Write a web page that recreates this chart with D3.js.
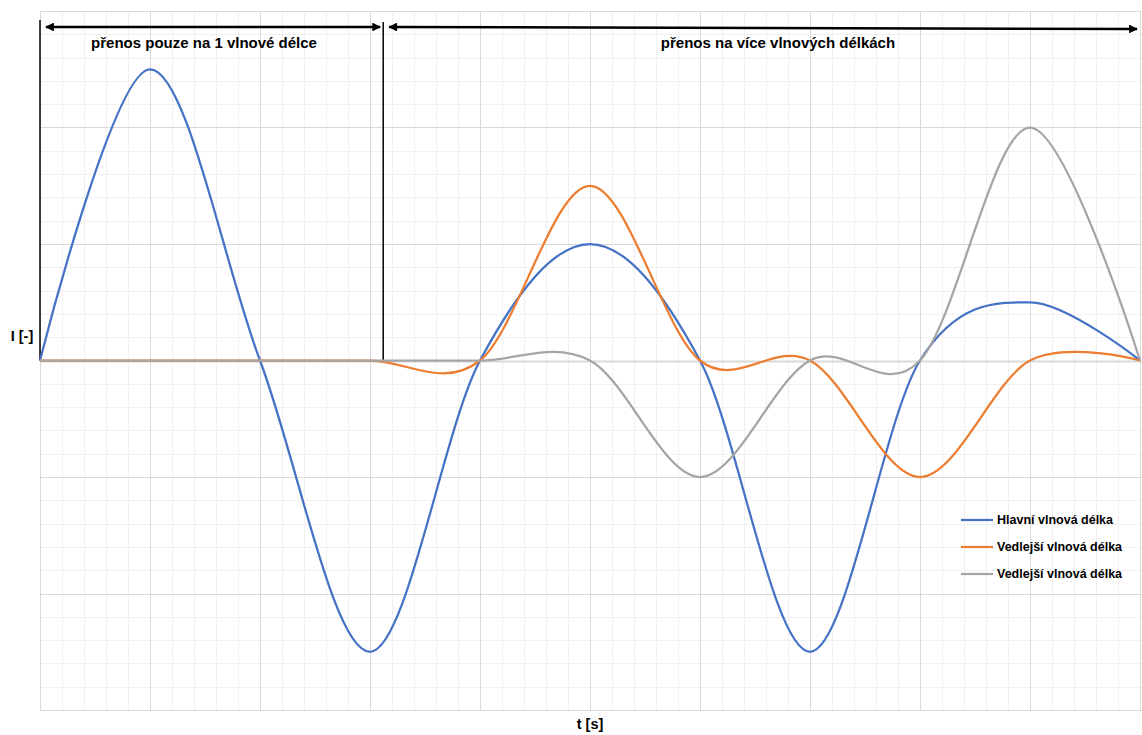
<!DOCTYPE html>
<html>
<head>
<meta charset="utf-8">
<script src="https://cdn.jsdelivr.net/npm/d3@7"></script>
<style>
  body { margin: 0; background: #fff; }
  text { font-family: "Liberation Sans", Arial, sans-serif; font-weight: bold; fill: #000; }
</style>
</head>
<body>
<div id="chart"></div>
<script>
// data (t in grid units, I in grid units)
var tValues = [0, 1, 2, 3, 4, 5, 6, 7, 8, 9, 10];
var hlavni = [0, 2.5, 0, -2.5, 0, 1, 0, -2.5, 0, 0.5, 0];
var vedlejsi1 = [0, 0, 0, 0, 0, 1.5, 0, 0, -1, 0, 0];
var vedlejsi2 = [0, 0, 0, 0, 0, 0, -1, 0, 0, 2, 0];
var seriesNames = ["Hlavní vlnová délka", "Vedlejší vlnová délka", "Vedlejší vlnová délka"];
var sections = [
  {from: 0, to: 3.12, label: "přenos pouze na 1 vlnové délce"},
  {from: 3.12, to: 10, label: "přenos na více vlnových délkách"}
];

var W = 1142, H = 735;

var x = d3.scaleLinear().domain([0, 10]).range([40, 1140]);
var y = d3.scaleLinear().domain([-3, 3]).range([710, 11]);

var svg = d3.select("#chart").append("svg").attr("width", W).attr("height", H);

// minor grid
var minorX = d3.range(0, 10.001, 0.2), minorY = d3.range(-3, 3.001, 0.2);
svg.append("g").selectAll("line").data(minorX).enter().append("line")
  .attr("x1", function(d) { return Math.round(x(d)) + 0.5; }).attr("x2", function(d) { return Math.round(x(d)) + 0.5; })
  .attr("y1", y(3)).attr("y2", y(-3)).attr("stroke", "#f0f0f0").attr("stroke-width", 1);
svg.append("g").selectAll("line").data(minorY).enter().append("line")
  .attr("y1", function(d) { return Math.round(y(d)) + 0.5; }).attr("y2", function(d) { return Math.round(y(d)) + 0.5; })
  .attr("x1", x(0)).attr("x2", W).attr("stroke", "#f0f0f0").attr("stroke-width", 1);

// major grid
svg.append("g").selectAll("line").data(d3.range(0, 11)).enter().append("line")
  .attr("x1", function(d) { return Math.round(x(d)) + 0.5; }).attr("x2", function(d) { return Math.round(x(d)) + 0.5; })
  .attr("y1", y(3)).attr("y2", y(-3)).attr("stroke", "#d9d9d9").attr("stroke-width", 1);
svg.append("g").selectAll("line").data(d3.range(-3, 4)).enter().append("line")
  .attr("y1", function(d) { return Math.round(y(d)) + 0.5; }).attr("y2", function(d) { return Math.round(y(d)) + 0.5; })
  .attr("x1", x(0)).attr("x2", W).attr("stroke", "#d9d9d9").attr("stroke-width", function(d) { return d === 0 ? 2 : 1; });

// section markers
svg.append("defs").append("marker").attr("id", "arr").attr("viewBox", "0 0 10 10")
  .attr("refX", 9).attr("refY", 5).attr("markerWidth", 4).attr("markerHeight", 3.5)
  .attr("markerUnits", "strokeWidth").attr("orient", "auto-start-reverse")
  .append("path").attr("d", "M0,0L10,5L0,10z").attr("fill", "#000");

sections.forEach(function(s, i) {
  svg.append("line").attr("x1", x(s.from)).attr("x2", x(s.from))
    .attr("y1", i === 0 ? 20 : 22).attr("y2", y(0)).attr("stroke", "#000").attr("stroke-width", 1.5);
  svg.append("line").attr("x1", x(s.from) + 6).attr("x2", x(s.to) - 3)
    .attr("y1", 27).attr("y2", i === 0 ? 27 : 29).attr("stroke", "#000").attr("stroke-width", 2.5)
    .attr("marker-start", "url(#arr)").attr("marker-end", "url(#arr)");
  svg.append("text").attr("x", i === 0 ? 204 : 778).attr("y", 48).attr("text-anchor", "middle")
    .style("font-size", "15px").text(s.label);
});

// series
var colors = ["#4472c4", "#ed7d31", "#a5a5a5"];
var allSeries = [hlavni, vedlejsi1, vedlejsi2];
var line = d3.line().curve(d3.curveCardinal.tension(0))
  .x(function(d, i) { return x(tValues[i]); }).y(function(d) { return y(d); });

allSeries.forEach(function(vals, k) {
  svg.append("path").datum(vals).attr("d", line).attr("fill", "none")
    .attr("stroke", colors[k]).attr("stroke-width", 2.25).attr("stroke-linejoin", "round");
});

// axis titles
svg.append("text").attr("x", 22).attr("y", 341).attr("text-anchor", "middle").style("font-size", "14.5px").text("I [-]");
svg.append("text").attr("x", 590).attr("y", 729).attr("text-anchor", "middle").style("font-size", "14.5px").text("t [s]");

// legend
var legend = svg.append("g");
seriesNames.forEach(function(n, k) {
  var ly = 520 + k * 27;
  legend.append("line").attr("x1", 961).attr("x2", 993).attr("y1", ly).attr("y2", ly)
    .attr("stroke", colors[k]).attr("stroke-width", 2.25);
  legend.append("text").attr("x", 997).attr("y", ly + 4).style("font-size", "12.5px").text(n);
});
</script>
</body>
</html>
